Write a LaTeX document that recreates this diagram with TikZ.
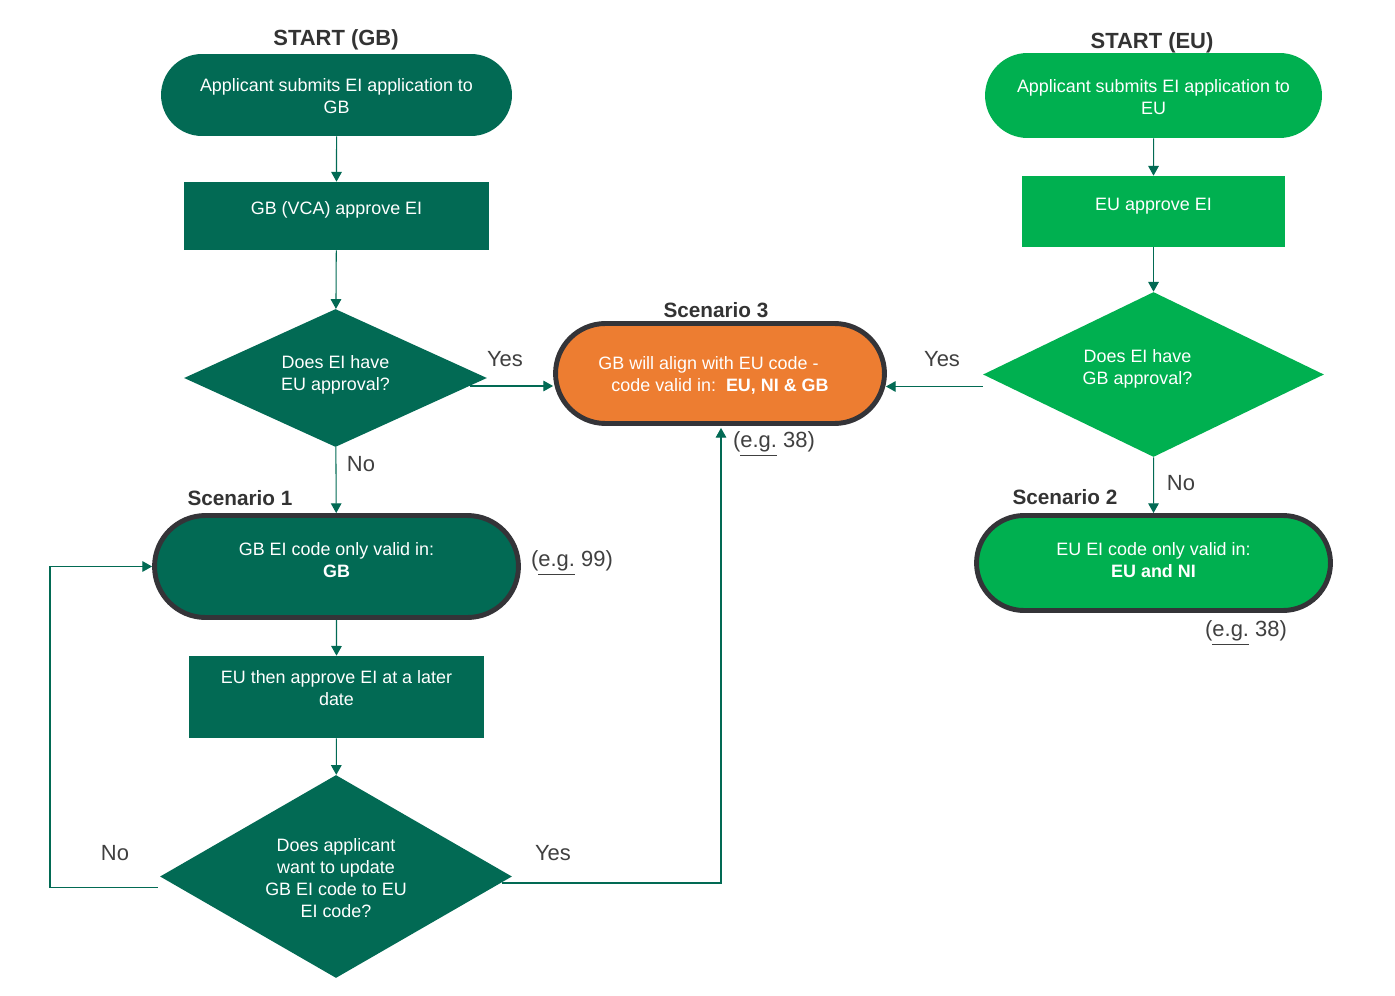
\documentclass[tikz,border=0pt]{standalone}
\usepackage{fontspec}
\setmainfont{Liberation Sans}
\usetikzlibrary{shapes.geometric,shapes.misc,arrows.meta,calc}
\definecolor{dgreen}{RGB}{2,106,84}
\definecolor{bgreen}{RGB}{0,176,80}
\definecolor{orng}{RGB}{237,125,49}
\definecolor{bord}{RGB}{52,52,56}
\definecolor{labc}{RGB}{64,64,64}
\definecolor{headc}{RGB}{51,51,51}
\newcommand\tl[1]{\begin{tabular}{@{}c@{}}#1\end{tabular}}
\newcommand\sh[2]{\raisebox{#1}[\height][\depth]{\tl{#2}}}
\newcommand\eg{\underline{e.g.}}
\begin{document}
\begin{tikzpicture}[x=0.02cm,y=-0.02cm,
  bodyf/.style={font=\fontsize{10.2}{12.5}\selectfont, text=white, inner sep=0pt},
  box/.style={bodyf, rectangle},
  term/.style={bodyf, rounded rectangle},
  scen/.style={bodyf, rounded rectangle, draw=bord, line width=2.8pt},
  dec/.style={bodyf, diamond},
  arr/.style={draw=dgreen, line width=0.6pt, -{Triangle[length=5.5pt,width=6pt]}},
  lbl/.style={text=labc, font=\fontsize{12.5}{15}\selectfont, inner sep=0pt},
  head/.style={text=headc, font=\bfseries\fontsize{12.5}{15}\selectfont, inner sep=0pt},
  shead/.style={text=headc, font=\bfseries\fontsize{11.8}{14}\selectfont, inner sep=0pt}]
\useasboundingbox (0,0) rectangle (1395,996);
\fill[white] (0,0) rectangle (1395,996);

% ---------- left column (GB) ----------
\node[head] (hgb) at (336,40) {START (GB)};
\node[term, fill=dgreen, minimum width=7.02cm, minimum height=1.64cm] (sgb) at (336.5,95)
  {\sh{-0.07cm}{Applicant submits EI application to\\GB}};
\node[box, fill=dgreen, minimum width=6.1cm, minimum height=1.36cm] (rgb) at (336.5,216)
  {\sh{0.12cm}{GB (VCA) approve EI}};
\node[dec, fill=dgreen, shape aspect=2.2, minimum width=6.06cm, minimum height=2.76cm] (dgb) at (335.5,378)
  {\sh{0.06cm}{Does EI have\\EU approval?}};
\node[shead] (hs1) at (240,498) {Scenario 1};
\node[scen, fill=dgreen, minimum width=7.28cm, minimum height=2.04cm] (sc1) at (336.5,566.5)
  {\sh{0.08cm}{GB EI code only valid in:\\\textbf{GB}}};
\node[lbl] (eg1) at (572,563) {(\eg{} 99)};
\node[box, fill=dgreen, minimum width=5.9cm, minimum height=1.64cm] (rlater) at (336.5,697)
  {\sh{0.14cm}{EU then approve EI at a later\\date}};
\node[dec, fill=dgreen, shape aspect=1.73, minimum width=7.04cm, minimum height=4.06cm] (dupd) at (336,876.5)
  {\sh{-0.08cm}{Does applicant\\want to update\\GB EI code to EU\\EI code?}};

% ---------- middle (Scenario 3) ----------
\node[shead] (hs3) at (716,310) {Scenario 3};
\node[scen, fill=orng, minimum width=6.58cm, minimum height=2.0cm] (sc3) at (720,373.5)
  {\sh{-0.06cm}{GB will align with EU code -\hspace*{0.46cm}\\code valid in:\ \ \textbf{EU, NI \& GB}}};
\node[lbl] (eg3) at (774,444) {(\eg{} 38)};

% ---------- right column (EU) ----------
\node[head] (heu) at (1152,43) {START (EU)};
\node[term, fill=bgreen, minimum width=6.74cm, minimum height=1.7cm] (seu) at (1153.5,95.5)
  {\sh{-0.07cm}{Applicant submits EI application to\\EU}};
\node[box, fill=bgreen, minimum width=5.26cm, minimum height=1.42cm] (reu) at (1153.5,211.5)
  {\sh{0.1cm}{EU approve EI}};
\node[dec, fill=bgreen, shape aspect=2.07, minimum width=6.82cm, minimum height=3.3cm] (deu) at (1153.5,374.5)
  {\sh{0.1cm}{Does EI have\\GB approval?}\hspace*{0.64cm}};
\node[shead] (hs2) at (1065,497) {Scenario 2};
\node[scen, fill=bgreen, minimum width=7.08cm, minimum height=1.9cm] (sc2) at (1153.5,563)
  {\sh{0.02cm}{EU EI code only valid in:\\\textbf{EU and NI}}};
\node[lbl] (eg2) at (1246,633) {(\eg{} 38)};

% ---------- branch labels ----------
\node[lbl] (y1) at (505,359) {Yes};
\node[lbl] (n1) at (361,464) {No};
\node[lbl] (n2) at (115,853) {No};
\node[lbl] (y2) at (553,853) {Yes};
\node[lbl] (y3) at (942,359) {Yes};
\node[lbl] (n3) at (1181,483) {No};

% ---------- connectors ----------
\draw[arr] (sgb) -- (rgb);
\draw[arr] (rgb) -- (dgb);
\draw[arr] (dgb) -- (sc1);
\draw[arr] (sc1) -- (rlater);
\draw[arr] (rlater) -- (dupd);
\coordinate (yl) at ($(dgb.east)+(-17,8)$);
\draw[arr] (yl) -- (yl -| sc3.west);
\coordinate (noS) at ($(dupd.west)+(-2,11)$);
\coordinate (noC) at (50,887.5);
\draw[arr] (noS) -- (noC) |- (sc1.west);
\coordinate (yesS) at ($(dupd.east)+(-10,6.5)$);
\draw[arr] (yesS) -| ($(sc3.south)+(1,2)$);

\draw[arr] (seu) -- (reu);
\draw[arr] (reu) -- (deu);
\draw[arr] (deu) -- (sc2);
\coordinate (yr) at ($(deu.west)+(0,12)$);
\draw[arr] (yr) -- ($(yr -| sc3.east)+(-1,0)$);
\end{tikzpicture}
\end{document}
